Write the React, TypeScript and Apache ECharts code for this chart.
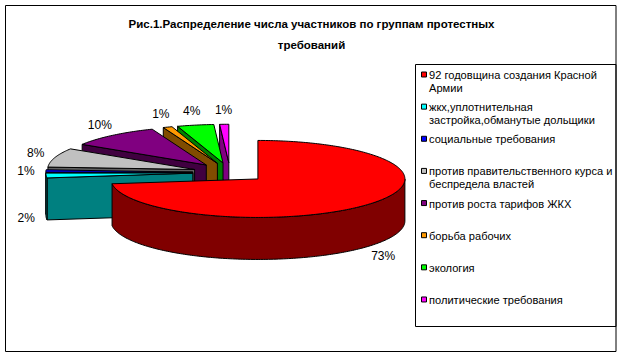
import React, { useEffect, useRef } from "react";
import * as echarts from "echarts";

// ---- data ----
const categories = [
  "92 годовщина создания Красной Армии",
  "жкх,уплотнительная застройка,обманутые дольщики",
  "социальные требования",
  "против правительственного курса и беспредела властей",
  "против роста тарифов ЖКХ",
  "борьба рабочих",
  "экология",
  "политические требования",
];
// legend text as it is wrapped in the picture
const legendLabels = [
  "92 годовщина создания Красной\nАрмии",
  "жкх,уплотнительная\nзастройка,обманутые дольщики",
  "социальные требования",
  "против правительственного курса и\nбеспредела властей",
  "против роста тарифов ЖКХ",
  "борьба рабочих",
  "экология",
  "политические требования",
];
const shares = [73, 2, 1, 8, 10, 1, 4, 1];
const topColors = ["#FF0000", "#00FFFF", "#0000FF", "#C0C0C0", "#800080", "#FF9900", "#00FF00", "#FF00FF"];
const sideColors = ["#800000", "#008080", "#000080", "#606060", "#400040", "#804C00", "#008000", "#800080"];
const titleLines = ["Рис.1.Распределение числа участников по группам протестных", "требований"];

// ---- layout (not data) ----
const W = 623;
const H = 358;
const CX = 230;
const CY = 172.5;
const RX = 147;
const RY = 38.5;
const DEPTH = 42;
const EXPLODE = 37.2;
const LABEL_PX = 20;
const LABEL_PY = 14;
const FONT = "'Liberation Sans', Arial, sans-serif";
const RAD = Math.PI / 180;

const total = shares.reduce((s, v) => s + v, 0);
const startAngles: number[] = [];
{
  let acc = 0;
  shares.forEach((v) => {
    startAngles.push((acc / total) * 360);
    acc += v;
  });
}
const midAngles = shares.map((v, i) => startAngles[i] + ((v / total) * 360) / 2);
const order = shares.map((_, i) => i).sort((p, q) => -Math.cos(midAngles[p] * RAD) - -Math.cos(midAngles[q] * RAD));
const rank: number[] = [];
order.forEach((idx, r) => (rank[idx] = r));

const renderItem = (params: any, api: any) => {
  const i = params.dataIndex;
  const v = api.value(0) as number;
  const a = startAngles[i];
  const b = a + (v / total) * 360;
  const mid = (a + b) / 2;
  const ox = CX + EXPLODE * Math.sin(mid * RAD);
  const oy = CY - EXPLODE * (RY / RX) * Math.cos(mid * RAD);
  const P = (t: number, dy = 0): number[] => [ox + RX * Math.sin(t * RAD), oy - RY * Math.cos(t * RAD) + dy];
  const arc = (t0: number, t1: number, dy = 0) => {
    const n = Math.max(2, Math.ceil(Math.abs(t1 - t0) / 1));
    const pts: number[][] = [];
    for (let k = 0; k <= n; k++) pts.push(P(t0 + ((t1 - t0) * k) / n, dy));
    return pts;
  };
  const base = rank[i] * 10;
  const poly = (points: number[][], fill: string, z2: number) => ({
    type: "polygon",
    z2,
    shape: { points },
    style: { fill, stroke: "#000", lineWidth: 1, lineJoin: "round" },
  });
  const children: any[] = [];
  if (Math.sin(a * RAD) < -1e-6) {
    children.push(poly([[ox, oy], P(a), P(a, DEPTH), [ox, oy + DEPTH]], sideColors[i], base + 1));
  }
  if (Math.sin(b * RAD) > 1e-6) {
    children.push(poly([[ox, oy], P(b), P(b, DEPTH), [ox, oy + DEPTH]], sideColors[i], base + 1));
  }
  const lo = Math.max(a, 90);
  const hi = Math.min(b, 270);
  if (hi > lo) {
    children.push(poly([...arc(lo, hi), ...arc(hi, lo, DEPTH)], sideColors[i], base + 2));
  }
  children.push(poly([[ox, oy], ...arc(a, b)], topColors[i], base + 3));
  const front = Math.cos(mid * RAD) < 0;
  children.push({
    type: "text",
    z2: 1000,
    style: {
      text: Math.round((v / total) * 100) + "%",
      x: ox + (RX + LABEL_PX) * Math.sin(mid * RAD),
      y: oy - (RY + LABEL_PY) * Math.cos(mid * RAD) + (front ? DEPTH : 0),
      align: "center",
      verticalAlign: "middle",
      font: `12px ${FONT}`,
      fill: "#000",
    },
  });
  return { type: "group", children };
};

const LEG_X0 = 415.5;
const LEG_Y0 = 64.5;
const LEG_X1 = 616;
const LEG_Y1 = 326.5;
const LEG_FIRST = 75;
const LEG_STEP = 32.14;

export default function App() {
  const ref = useRef<HTMLDivElement>(null);
  useEffect(() => {
    if (!ref.current) return;
    const chart = echarts.init(ref.current, null, { renderer: "svg", width: W, height: H });
    const legendEls: any[] = [];
    legendLabels.forEach((name, i) => {
      const cy = LEG_FIRST + i * LEG_STEP;
      legendEls.push({
        type: "rect",
        shape: { x: 421.5, y: cy - 3, width: 5, height: 5 },
        style: { fill: topColors[i], stroke: "#000", lineWidth: 1 },
      });
      legendEls.push({
        type: "text",
        x: 429,
        y: cy - 6.5,
        style: {
          text: name,
          lineHeight: 13,
          font: `11.1px ${FONT}`,
          fill: "#000",
          verticalAlign: "top",
        },
      });
    });
    chart.setOption({
      animation: false,
      backgroundColor: "#fff",
      title: {
        text: titleLines.join("\n"),
        left: "center",
        top: 8,
        textStyle: { fontFamily: FONT, fontSize: 11.5, fontWeight: "bold", color: "#000", lineHeight: 21 },
      },
      graphic: [
        {
          type: "rect",
          shape: { x: 5.5, y: 5.5, width: 610.5, height: 346 },
          style: { fill: "none", stroke: "#000", lineWidth: 1 },
        },
        {
          type: "rect",
          shape: { x: LEG_X0, y: LEG_Y0, width: LEG_X1 - LEG_X0, height: LEG_Y1 - LEG_Y0 },
          style: { fill: "none", stroke: "#000", lineWidth: 1 },
        },
        ...legendEls,
      ],
      series: [
        {
          type: "custom",
          coordinateSystem: "none",
          silent: true,
          data: shares,
          renderItem,
        },
      ],
    });
    return () => chart.dispose();
  }, []);
  return <div ref={ref} style={{ position: "absolute", left: 0, top: 0, width: W, height: H }} />;
}
